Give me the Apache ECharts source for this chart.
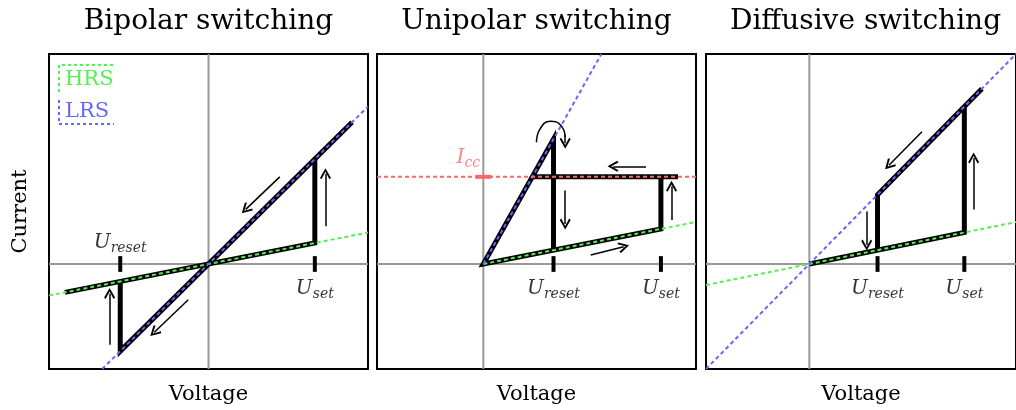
<!DOCTYPE html>
<html><head><meta charset="utf-8">
<script src="https://cdn.jsdelivr.net/npm/echarts@6/dist/echarts.min.js"></script>
<style>html,body{margin:0;padding:0;background:#fff}#c{width:1016px;height:410px}</style>
</head><body><div id="c"></div>
<script>
// ---------------- data ----------------
const titles = ['Bipolar switching', 'Unipolar switching', 'Diffusive switching'];
const xLabel = 'Voltage';
const yLabel = 'Current';
const legendLabels = ['HRS', 'LRS'];
const resetSub = 'reset', setSub = 'set', iccSub = 'cc';

// axis extents (x) per panel, y shared
const xRanges = [[-1.5, 1.5], [-1, 2], [-1, 2]];
const yRange = [-1, 2];

// Bipolar
const bipHRS = [[-1.5, -0.3], [1.5, 0.3]];
const bipLRS = [[-1, -1], [1.5, 1.5]];
const bipPathA = [[-1.35, -0.27], [1, 0.2], [1, 1]];
const bipPathB = [[1.35, 1.35], [-0.83, -0.83], [-0.83, -0.166]];
const bipTicks = [-0.83, 1];
const bipArrows = [
  [[1.10, 0.36], [1.10, 0.86]],
  [[0.67, 0.83], [0.35, 0.52]],
  [[-0.19, -0.34], [-0.51, -0.65]],
  [[-0.93, -0.77], [-0.93, -0.28]]
];

// Unipolar
const uniHRS = [[0, 0], [2, 0.4]];
const uniLRS = [[0, 0], [1.11, 2]];
const uniICC = [[-1, 0.83], [2, 0.83]];
const uniIccMark = [[-0.075, 0.83], [0.075, 0.83]];
const uniPathA = [[0.66, 0.132], [0.66, 1.19], [0, 0], [1.67, 0.334], [1.67, 0.83]];
const uniPathB = [[0.46, 0.83], [1.83, 0.83]];
const uniTicks = [0.66, 1.67];
const uniArc = [[0.50, 1.16], [0.53, 1.28], [0.63, 1.36], [0.73, 1.32], [0.77, 1.21]];
const uniArrows = [
  [[0.77, 1.23], [0.77, 1.15]],
  [[0.77, 0.70], [0.77, 0.38]],
  [[1.53, 0.93], [1.22, 0.93]],
  [[1.77, 0.42], [1.77, 0.74]],
  [[1.01, 0.085], [1.32, 0.165]]
];

// Diffusive
const difHRS = [[-1, -0.2], [2, 0.4]];
const difLRS = [[-1, -1], [2, 2]];
const difPathA = [[0, 0], [1.5, 0.3], [1.5, 1.5]];
const difPathB = [[0.66, 0.132], [0.66, 0.66], [1.67, 1.67]];
const difTicks = [0.66, 1.5];
const difArrows = [
  [[1.09, 1.26], [0.77, 0.94]],
  [[1.59, 0.52], [1.59, 1.01]],
  [[0.555, 0.50], [0.555, 0.18]]
];

const tickSpan = [-0.075, 0.075];

// ---------------- styling ----------------
const FONT = 'DejaVu Serif';
const GREEN = '#55ee55', BLUE = '#6666ff', RED = '#ff6666', GRAY = '#999999';
const ARROW = 'path://M5,0 L10,9.5 L8.6,10.8 L5,3.6 L1.4,10.8 L0,9.5 Z';
const gridBoxes = [
  {left: 49, top: 54, width: 319, height: 318},
  {left: 377, top: 54, width: 319, height: 318},
  {left: 706, top: 54, width: 319, height: 318}
];

function ln(gi, data, color, width, dash, z, extra) {
  return Object.assign({
    type: 'line', xAxisIndex: gi, yAxisIndex: gi, data: data, symbol: 'none',
    silent: true, animation: false, z: z,
    lineStyle: {color: color, width: width, type: dash ? [4, 3] : 'solid', cap: 'butt', join: 'miter'}
  }, extra || {});
}
function arrows(gi, list) {
  return {
    type: 'line', xAxisIndex: gi, yAxisIndex: gi, data: [], symbol: 'none', z: 5, silent: true, animation: false,
    markLine: {
      silent: true, animation: false, symbol: ['none', ARROW], symbolSize: 11,
      label: {show: false},
      lineStyle: {color: '#000', width: 1.5, type: 'solid'},
      data: list.map(a => [{coord: a[0]}, {coord: a[1]}])
    }
  };
}
const rich = {
  u: {fontFamily: FONT, fontStyle: 'italic', fontSize: 20, color: '#000'},
  s: {fontFamily: FONT, fontStyle: 'italic', fontSize: 14, color: '#000', padding: [12, 0, 0, 0]},
  ur: {fontFamily: FONT, fontStyle: 'italic', fontSize: 20, color: RED},
  sr: {fontFamily: FONT, fontStyle: 'italic', fontSize: 14, color: RED, padding: [12, 0, 0, 0]}
};
function labels(gi, items) {
  return {
    type: 'scatter', xAxisIndex: gi, yAxisIndex: gi, symbolSize: 1, z: 6, silent: true, animation: false,
    itemStyle: {color: 'rgba(0,0,0,0)'},
    label: {show: true, rich: rich},
    data: items
  };
}
function tickMarks(gi, ticks) {
  return ticks.map(t => ln(gi, [[t, tickSpan[0]], [t, tickSpan[1]]], '#000', 4, false, 4));
}
function zeroLines(gi) {
  const xr = xRanges[gi];
  return [ln(gi, [[xr[0], 0], [xr[1], 0]], GRAY, 2, false, 1), ln(gi, [[0, yRange[0]], [0, yRange[1]]], GRAY, 2, false, 1)];
}

const series = [];
// Panel 1
series.push(...zeroLines(0));
series.push(ln(0, bipPathA, '#000', 5, false, 2), ln(0, bipPathB, '#000', 5, false, 2));
series.push(ln(0, bipHRS, GREEN, 2, true, 3), ln(0, bipLRS, BLUE, 2, true, 3));
series.push(...tickMarks(0, bipTicks));
series.push(arrows(0, bipArrows));
series.push(labels(0, [
  {value: [bipTicks[0], tickSpan[1]], label: {position: 'top', distance: 0, formatter: '{u|U}{s|' + resetSub + '}'}},
  {value: [bipTicks[1], tickSpan[0]], label: {position: 'bottom', distance: 3, formatter: '{u|U}{s|' + setSub + '}'}}
]));
// Panel 2
series.push(...zeroLines(1));
series.push(ln(1, uniPathA, '#000', 5, false, 2), ln(1, uniPathB, '#000', 5, false, 2));
series.push(ln(1, uniHRS, GREEN, 2, true, 3), ln(1, uniLRS, BLUE, 2, true, 3), ln(1, uniICC, RED, 2, true, 3));
series.push(ln(1, uniIccMark, RED, 4, false, 4));
series.push(...tickMarks(1, uniTicks));
series.push(ln(1, uniArc, '#000', 1.5, false, 5, {smooth: true}));
series.push(arrows(1, uniArrows));
series.push(labels(1, [
  {value: [uniTicks[0], tickSpan[0]], label: {position: 'bottom', distance: 3, formatter: '{u|U}{s|' + resetSub + '}'}},
  {value: [uniTicks[1], tickSpan[0]], label: {position: 'bottom', distance: 3, formatter: '{u|U}{s|' + setSub + '}'}},
  {value: [0, uniICC[0][1]], label: {position: 'top', distance: 6, offset: [-15, 0], formatter: '{ur|I}{sr|' + iccSub + '}'}}
]));
// Panel 3
series.push(...zeroLines(2));
series.push(ln(2, difPathA, '#000', 5, false, 2), ln(2, difPathB, '#000', 5, false, 2));
series.push(ln(2, difHRS, GREEN, 2, true, 3), ln(2, difLRS, BLUE, 2, true, 3));
series.push(...tickMarks(2, difTicks));
series.push(arrows(2, difArrows));
series.push(labels(2, [
  {value: [difTicks[0], tickSpan[0]], label: {position: 'bottom', distance: 3, formatter: '{u|U}{s|' + resetSub + '}'}},
  {value: [difTicks[1], tickSpan[0]], label: {position: 'bottom', distance: 3, formatter: '{u|U}{s|' + setSub + '}'}}
]));

const axisName = {fontFamily: FONT, fontSize: 21, color: '#000'};
const option = {
  backgroundColor: '#fff',
  animation: false,
  title: titles.map((t, i) => ({
    text: t, left: gridBoxes[i].left + gridBoxes[i].width / 2, top: 8, textAlign: 'center', padding: 0,
    textStyle: {fontFamily: FONT, fontSize: 28, fontWeight: 'normal', color: '#000'}
  })),
  grid: gridBoxes.map(b => Object.assign({show: true, borderColor: '#000', borderWidth: 2, backgroundColor: 'transparent', containLabel: false}, b)),
  xAxis: xRanges.map((r, i) => ({
    type: 'value', gridIndex: i, min: r[0], max: r[1],
    name: xLabel, nameLocation: 'middle', nameGap: 15, nameTextStyle: axisName,
    axisLine: {show: false, onZero: false}, axisTick: {show: false}, axisLabel: {show: false}, splitLine: {show: false}
  })),
  yAxis: [0, 1, 2].map(i => ({
    type: 'value', gridIndex: i, min: yRange[0], max: yRange[1],
    name: i === 0 ? yLabel : '', nameLocation: 'middle', nameRotate: 90, nameGap: 18, nameTextStyle: axisName,
    axisLine: {show: false, onZero: false}, axisTick: {show: false}, axisLabel: {show: false}, splitLine: {show: false}
  })),
  graphic: [
    {type: 'polyline', shape: {points: [[59, 92], [59, 65], [114, 65]]}, style: {stroke: GREEN, lineWidth: 2, lineDash: [3, 3], fill: null}, z: 10},
    {type: 'text', x: 65, y: 80, style: {text: legendLabels[0], fill: GREEN, font: '21px "DejaVu Serif"', verticalAlign: 'middle'}, z: 10},
    {type: 'polyline', shape: {points: [[59, 100], [59, 124], [114, 124]]}, style: {stroke: BLUE, lineWidth: 2, lineDash: [3, 3], fill: null}, z: 10},
    {type: 'text', x: 65, y: 112, style: {text: legendLabels[1], fill: BLUE, font: '21px "DejaVu Serif"', verticalAlign: 'middle'}, z: 10}
  ],
  series: series
};
const chart = echarts.init(document.getElementById('c'), null, {renderer: 'canvas'});
chart.setOption(option);
</script>
</body></html>
